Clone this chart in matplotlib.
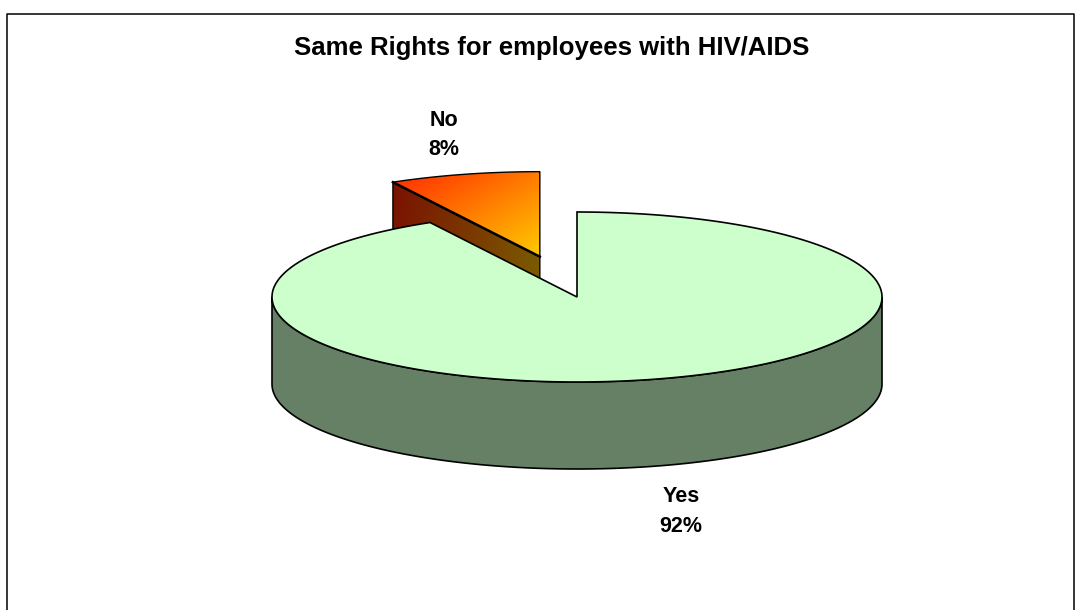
import numpy as np
import matplotlib
matplotlib.use("Agg")
import matplotlib.pyplot as plt
from matplotlib.patches import Polygon

# survey answers
labels = ["Yes", "No"]
values = [92, 8]
pct_text = ["92%", "8%"]
title = "Same Rights for employees with HIV/AIDS"

# ---- layout of the 3-d pie (pixel units) ----
CX, CY = 577, 297        # centre of the top ellipse
RX, RY = 305, 85         # ellipse half-axes
DEPTH = 87               # thickness of the pie
EXPLODE = {"No": 0.49}   # radial offset as a fraction of the radius
START = 90.0             # first slice starts at 12 o'clock, going clockwise

plt.rcParams["font.family"] = ["Liberation Sans", "DejaVu Sans"]

fig = plt.figure(figsize=(10.79, 6.10), dpi=100)
ax = fig.add_axes([0, 0, 1, 1])
ax.set_xlim(0, 1079)
ax.set_ylim(610, 0)
ax.axis("off")

# frame around the chart area (runs off the bottom)
ax.plot([6.5, 6.5, 1073.5, 1073.5], [612, 13.5, 13.5, 612],
        color="black", lw=1.1, solid_capstyle="butt")


def pt(theta, cx, cy, z=0.0):
    t = np.radians(theta)
    return cx + RX * np.cos(t), cy - RY * np.sin(t) + z


def arc(t0, t1, cx, cy, z=0.0, n=200):
    t = np.linspace(t0, t1, n)
    x, y = pt(t, cx, cy, z)
    return np.column_stack([x, y])


def gradient_fill(poly, c0, c1, direction, extent):
    """Linear gradient clipped to a polygon."""
    x0, x1, y0, y1 = extent
    gx, gy = np.meshgrid(np.linspace(0, 1, 200), np.linspace(0, 1, 200))
    dx, dy = direction
    f = gx * dx + gy * dy
    f = (f - f.min()) / (f.max() - f.min())
    c0 = np.array(matplotlib.colors.to_rgb(c0))
    c1 = np.array(matplotlib.colors.to_rgb(c1))
    img = c0[None, None, :] * (1 - f[..., None]) + c1[None, None, :] * f[..., None]
    im = ax.imshow(img, extent=(x0, x1, y1, y0), origin="upper",
                   interpolation="bilinear", zorder=poly.get_zorder())
    im.set_clip_path(poly)


# slice angles, clockwise from the top
total = sum(values)
spans = [v / total * 360.0 for v in values]
angles = []
a = START
for s in spans:
    angles.append((a, a - s))
    a -= s

# ---- exploded "No" slice (behind, drawn first) ----
t_start, t_end = angles[1]
mid = np.radians((t_start + t_end) / 2)
e = EXPLODE["No"]
ncx = CX + e * RX * np.cos(mid)
ncy = CY - e * RY * np.sin(mid)

# cut face on the side facing the viewer
ox, oy = pt(t_start, ncx, ncy)
face = np.array([[ncx, ncy], [ox, oy], [ox, oy + DEPTH], [ncx, ncy + DEPTH]])
side_poly = Polygon(face, closed=True, facecolor="none", edgecolor="none", zorder=2)
ax.add_patch(side_poly)
gradient_fill(side_poly, "#7a1200", "#7a6000", (1, 0.15),
              (face[:, 0].min(), face[:, 0].max(), face[:, 1].min(), face[:, 1].max()))
ax.add_patch(Polygon(face, closed=True, facecolor="none", edgecolor="black",
                     lw=1.0, zorder=2.1))

# top face
top = np.vstack([[ncx, ncy], arc(t_end, t_start, ncx, ncy), [ncx, ncy]])
top_poly = Polygon(top, closed=True, facecolor="none", edgecolor="none", zorder=2.2)
ax.add_patch(top_poly)
gradient_fill(top_poly, "#ff2a00", "#ffcc00", (1, 1),
              (top[:, 0].min(), top[:, 0].max(), top[:, 1].min(), top[:, 1].max()))
ax.add_patch(Polygon(top, closed=True, facecolor="none", edgecolor="black",
                     lw=1.0, zorder=2.3))
ax.plot([ncx, ox], [ncy, oy], color="black", lw=1.8, zorder=2.4)

# ---- "Yes" slice ----
y0, y1 = angles[0]
# front wall, visible between 180 and 360 degrees
front = np.vstack([arc(-180, 0, CX, CY), arc(0, -180, CX, CY, DEPTH)])
ax.add_patch(Polygon(front, closed=True, facecolor="#668066", edgecolor="black",
                     lw=1.2, zorder=3))
top_yes = np.vstack([[CX, CY], arc(y0, y1, CX, CY, n=600), [CX, CY]])
ax.add_patch(Polygon(top_yes, closed=True, facecolor="#ccffcc", edgecolor="black",
                     lw=1.2, zorder=4, joinstyle="miter"))

# ---- labels ----
label_pos = {"Yes": (681, 511.5), "No": (444, 135)}
for lab, pct in zip(labels, pct_text):
    x, y = label_pos[lab]
    ax.text(x, y, f"{lab}\n{pct}", ha="center", va="center", fontsize=15.5,
            fontweight="bold", linespacing=1.55, zorder=5)

ax.text(552, 48, title, ha="center", va="center", fontsize=18.5,
        fontweight="bold", zorder=5)

fig.savefig("out.png", dpi=100)
